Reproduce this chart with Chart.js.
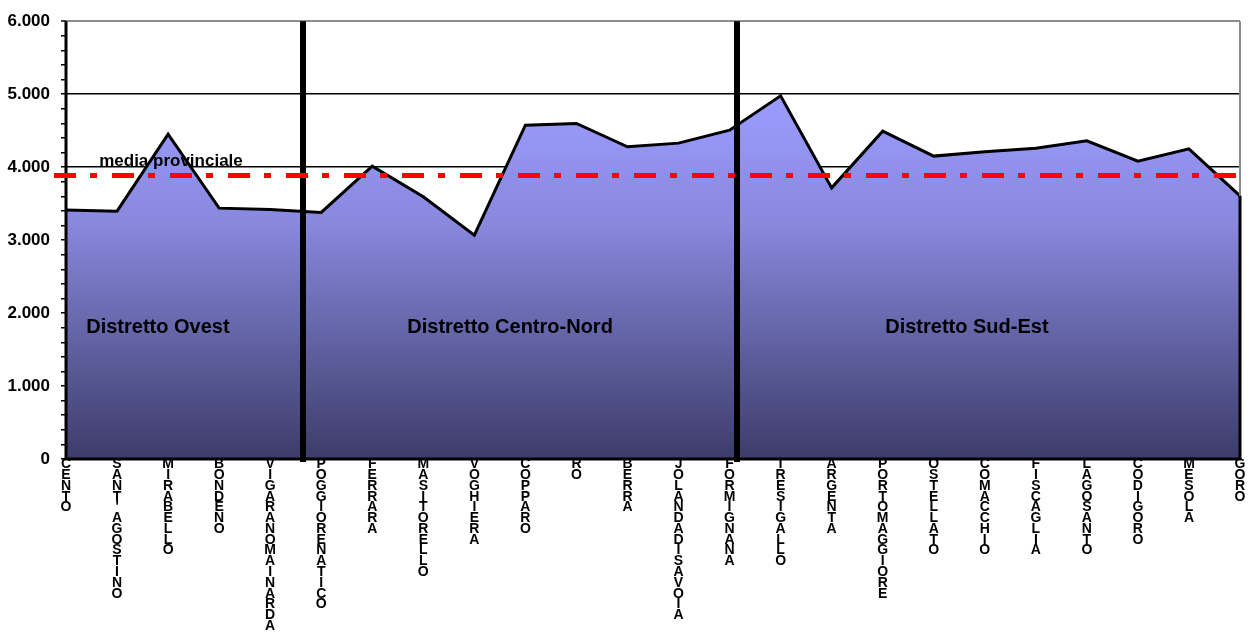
<!DOCTYPE html>
<html>
<head>
<meta charset="utf-8">
<title>Media per comune - distretti</title>
<script src="https://cdn.jsdelivr.net/npm/chart.js@4/dist/chart.umd.min.js"></script>
<style>
  html, body { margin: 0; padding: 0; background: #ffffff; }
  #wrap { width: 1251px; height: 633px; position: relative; }
</style>
</head>
<body>
<div id="wrap"><canvas id="chart" width="1251" height="633"></canvas></div>
<script>
// Comuni, grouped by district from left to right
const categories = [
  'CENTO', "SANT'AGOSTINO", 'MIRABELLO', 'BONDENO', 'VIGARANO MAINARDA',
  'POGGIO RENATICO', 'FERRARA', 'MASI TORELLO', 'VOGHIERA', 'COPPARO', 'RO',
  'BERRA', 'JOLANDA DI SAVOIA', 'FORMIGNANA',
  'TRESIGALLO', 'ARGENTA', 'PORTOMAGGIORE', 'OSTELLATO', 'COMACCHIO',
  'FISCAGLIA', 'LAGOSANTO', 'CODIGORO', 'MESOLA', 'GORO'
];

// Value per comune
const values = [
  3411, 3397, 4452, 3438, 3418,
  3379, 4014, 3593, 3068, 4575, 4599,
  4278, 4329, 4507,
  4977, 3716, 4493, 4151, 4212,
  4260, 4360, 4082, 4251, 3607
];

// Provincial average
const mediaProvinciale = 3884;
const mediaLabel = 'media provinciale';

// District names
const districts = ['Distretto Ovest', 'Distretto Centro-Nord', 'Distretto Sud-Est'];

// Y axis range and tick spacing
const yMin = 0, yMax = 6000, yMajor = 1000, yMinor = 200;

const FONT = "'Liberation Sans', Arial, Helvetica, sans-serif";

function fmtThousands(v) {
  return String(v).replace(/\B(?=(\d{3})+(?!\d))/g, '.');
}

// Overlay: axes, district separators, average line and text
const overlay = {
  id: 'overlay',
  afterDatasetsDraw(chart, args, opts) {
    const { ctx, chartArea: a, scales: { x, y } } = chart;
    ctx.save();

    // right border of the plot (grey above the area)
    ctx.strokeStyle = '#8c8c8c';
    ctx.lineWidth = 2;
    ctx.beginPath();
    ctx.moveTo(a.right, a.top);
    ctx.lineTo(a.right, a.bottom);
    ctx.stroke();

    // right edge of the filled area
    const lastY = y.getPixelForValue(values[values.length - 1]);
    ctx.strokeStyle = '#000';
    ctx.lineWidth = 3;
    ctx.beginPath();
    ctx.moveTo(a.right, lastY);
    ctx.lineTo(a.right, a.bottom);
    ctx.stroke();

    // axis lines
    ctx.lineWidth = 3;
    ctx.beginPath();
    ctx.moveTo(a.left, a.top);
    ctx.lineTo(a.left, a.bottom + 1.5);
    ctx.moveTo(a.left - 1.5, a.bottom);
    ctx.lineTo(a.right + 1.5, a.bottom);
    ctx.stroke();

    // district separators
    ctx.lineWidth = 6;
    opts.separators.forEach(pos => {
      const px = Math.round(x.getPixelForValue(pos));
      ctx.beginPath();
      ctx.moveTo(px, a.top);
      ctx.lineTo(px, a.bottom + 3);
      ctx.stroke();
    });

    // provincial average line
    const my = y.getPixelForValue(mediaProvinciale);
    ctx.strokeStyle = '#ff0000';
    ctx.lineWidth = 5;
    ctx.setLineDash([22, 14, 7, 15]);
    ctx.beginPath();
    ctx.moveTo(a.left - 12, my);
    ctx.lineTo(a.right + 5, my);
    ctx.stroke();
    ctx.setLineDash([]);

    // average label
    ctx.fillStyle = '#000';
    ctx.font = 'bold 17px ' + FONT;
    ctx.textAlign = 'left';
    ctx.textBaseline = 'alphabetic';
    ctx.fillText(mediaLabel, x.getPixelForValue(opts.mediaLabelPos), my - 10);

    // district names
    ctx.font = 'bold 20px ' + FONT;
    ctx.textAlign = 'center';
    ctx.textBaseline = 'middle';
    districts.forEach((name, i) => {
      ctx.fillText(name, x.getPixelForValue(opts.districtPos[i]), y.getPixelForValue(opts.districtValue));
    });

    ctx.restore();
  }
};

const canvas = document.getElementById('chart');
const ctx2d = canvas.getContext('2d');

new Chart(ctx2d, {
  type: 'line',
  data: {
    labels: categories,
    datasets: [{
      data: values,
      borderColor: '#000000',
      borderWidth: 3,
      tension: 0,
      pointRadius: 0,
      fill: 'origin',
      backgroundColor(c) {
        const { chart } = c;
        const a = chart.chartArea;
        if (!a) return '#8888ee';
        const ys = chart.scales.y;
        const g = chart.ctx.createLinearGradient(0, ys.getPixelForValue(Math.max(...values)), 0, a.bottom);
        g.addColorStop(0, 'rgb(156,156,255)');
        g.addColorStop(0.35, 'rgb(136,136,222)');
        g.addColorStop(1, 'rgb(60,60,106)');
        return g;
      }
    }]
  },
  options: {
    responsive: false,
    animation: false,
    layout: { padding: { top: 21, right: 11, left: 0, bottom: 0 } },
    plugins: {
      legend: { display: false },
      tooltip: { enabled: false },
      overlay: {
        separators: [4.64, 13.15],
        mediaLabelPos: 0.65,
        districtPos: [1.8, 8.7, 17.65],
        districtValue: 1808
      }
    },
    scales: {
      x: {
        type: 'category',
        offset: false,
        border: { display: false },
        grid: { display: false, drawTicks: false },
        ticks: {
          autoSkip: false,
          maxRotation: 0,
          minRotation: 0,
          padding: 0,
          color: '#000',
          font: { family: FONT, size: 14, weight: 'bold', lineHeight: 0.77 },
          callback(value) {
            return categories[value].replace(/ /g, '').split('');
          }
        },
        afterFit(scale) { scale.height = 633 - 459; }
      },
      y: {
        min: yMin,
        max: yMax,
        border: { display: false },
        grid: {
          tickLength: 5,
          tickColor: '#000',
          tickWidth: 1.5,
          lineWidth(c) {
            return c.tick && c.tick.value === yMax ? 2 : 1.5;
          },
          color(c) {
            const v = c.tick ? c.tick.value : 0;
            if (v === yMin) return 'rgba(0,0,0,0)';
            if (v === yMax) return '#8c8c8c';
            return v % yMajor === 0 ? '#000' : 'rgba(0,0,0,0)';
          }
        },
        ticks: {
          stepSize: yMinor,
          autoSkip: false,
          padding: 11,
          color: '#000',
          font: { family: FONT, size: 17, weight: 'bold' },
          callback(v) { return v % yMajor === 0 ? fmtThousands(v) : ''; }
        },
        afterFit(scale) { scale.width = 66; }
      }
    }
  },
  plugins: [overlay]
});
</script>
</body>
</html>
